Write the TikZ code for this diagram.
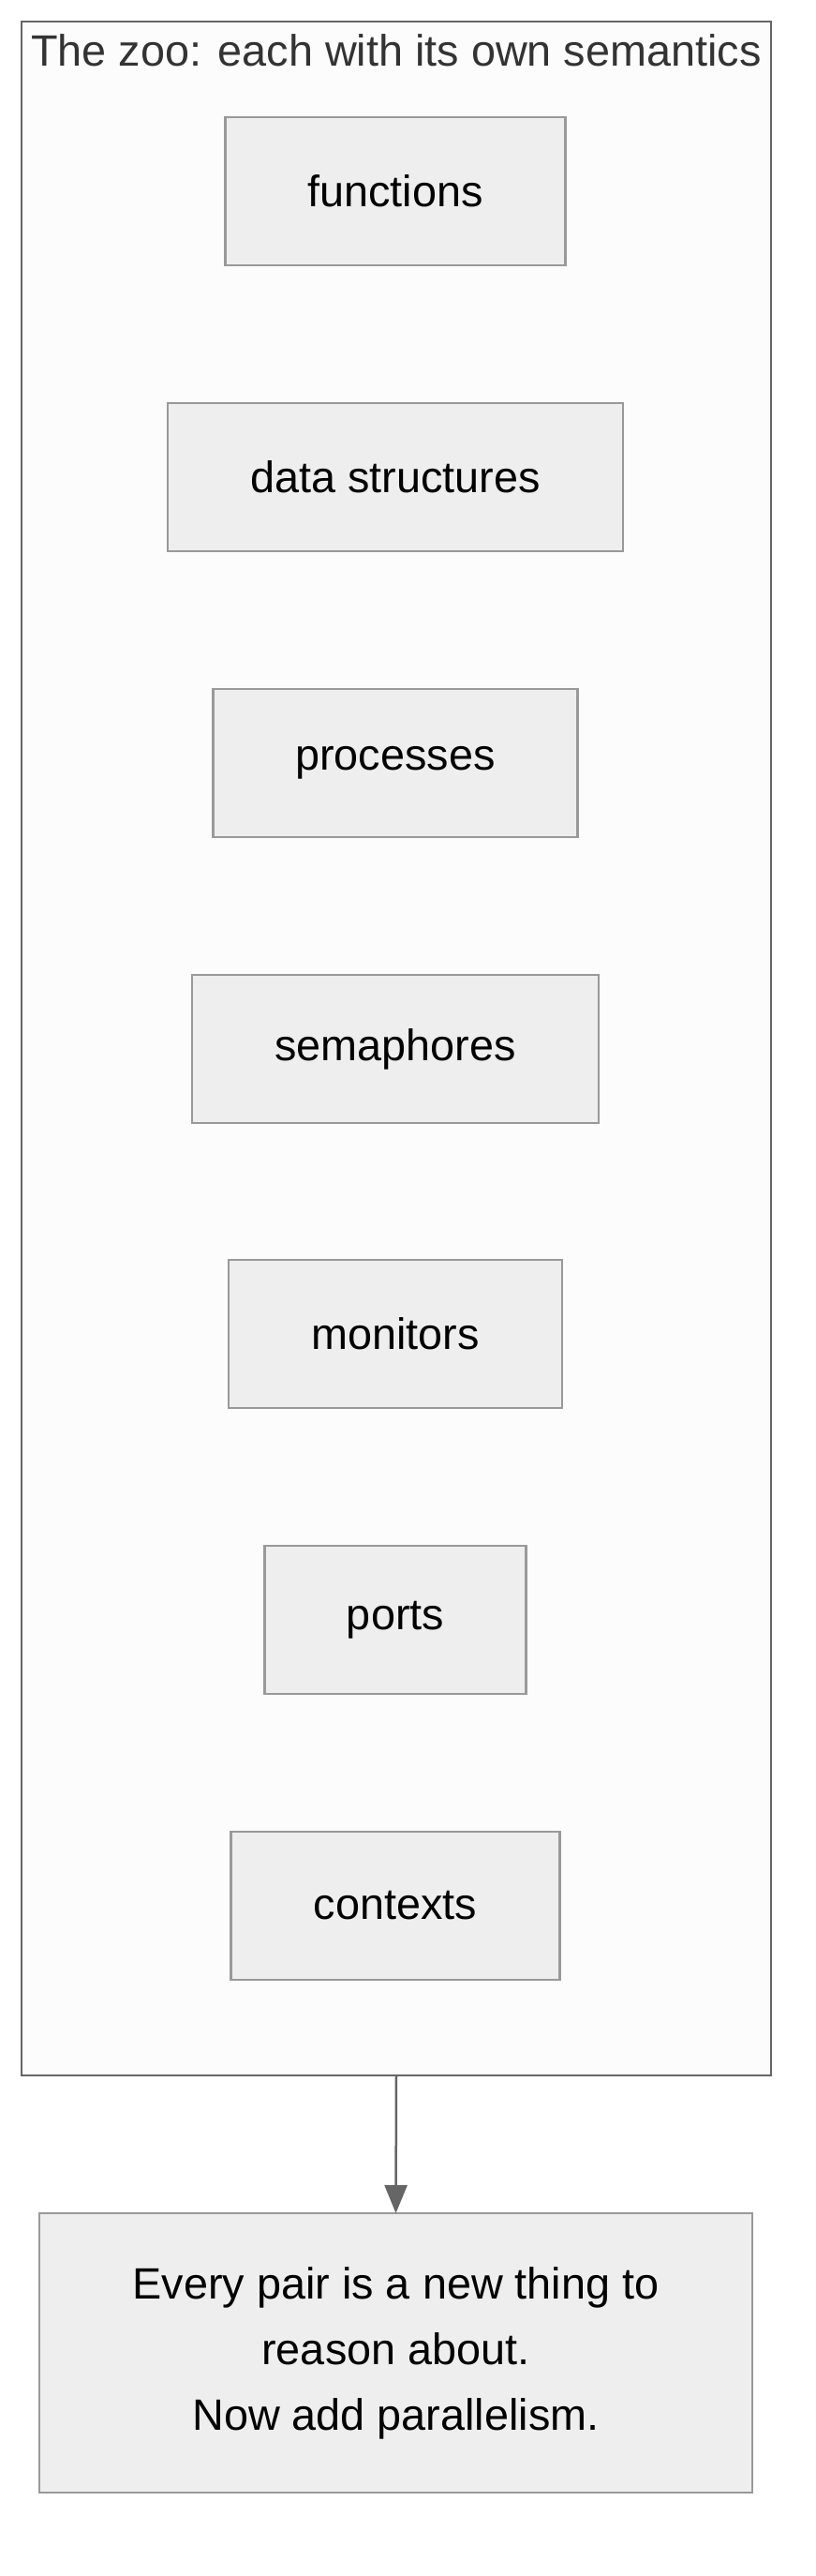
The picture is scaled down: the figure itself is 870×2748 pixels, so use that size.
\documentclass[tikz,border=0pt]{standalone}
\usepackage{fontspec}
\setmainfont{Liberation Sans}
\usetikzlibrary{arrows.meta}
\definecolor{boxfill}{HTML}{EEEEEE}
\definecolor{boxline}{HTML}{999999}
\definecolor{framefill}{HTML}{FCFCFC}
\definecolor{frameline}{HTML}{666666}
\definecolor{titlecol}{HTML}{333333}
\begin{document}
\begin{tikzpicture}[x=1pt,y=-1pt,
  every node/.style={inner sep=0pt, outer sep=0pt},
  labelfont/.style={font=\fontsize{46.8}{70}\selectfont},
  zoobox/.style={draw=boxline, fill=boxfill, line width=2.5pt, minimum height=158pt, labelfont, text=black},
  zooframe/.style={draw=frameline, fill=framefill, line width=2.5pt},
  link/.style={draw=frameline, line width=2.5pt, -{Triangle[length=30pt,width=24pt]}}]
\useasboundingbox (0,0) rectangle (870,2748);
\node[zooframe, minimum width=800pt, minimum height=2191pt] (zoo) at (423,1118.5) {};
\node[labelfont, text=titlecol] (title) at (423,54) {The zoo: each with its own semantics};
\node[zoobox, minimum width=363pt] (functions) at (422,204) {functions};
\node[zoobox, minimum width=486pt] (data) at (422,509) {data structures};
\node[zoobox, minimum width=389pt] (processes) at (422,814) {processes};
\node[zoobox, minimum width=434pt] (semaphores) at (422,1119) {semaphores};
\node[zoobox, minimum width=356pt] (monitors) at (422,1423) {monitors};
\node[zoobox, minimum width=279pt] (ports) at (422,1728) {ports};
\node[zoobox, minimum width=351pt] (contexts) at (422,2033) {contexts};
\node[zoobox, minimum width=761pt, minimum height=298pt, align=center] (every) at (422.5,2510) {Every pair is a new thing to\\reason about.\\Now add parallelism.};
\draw[link] (zoo.south) -- (every.north);
\end{tikzpicture}
\end{document}
